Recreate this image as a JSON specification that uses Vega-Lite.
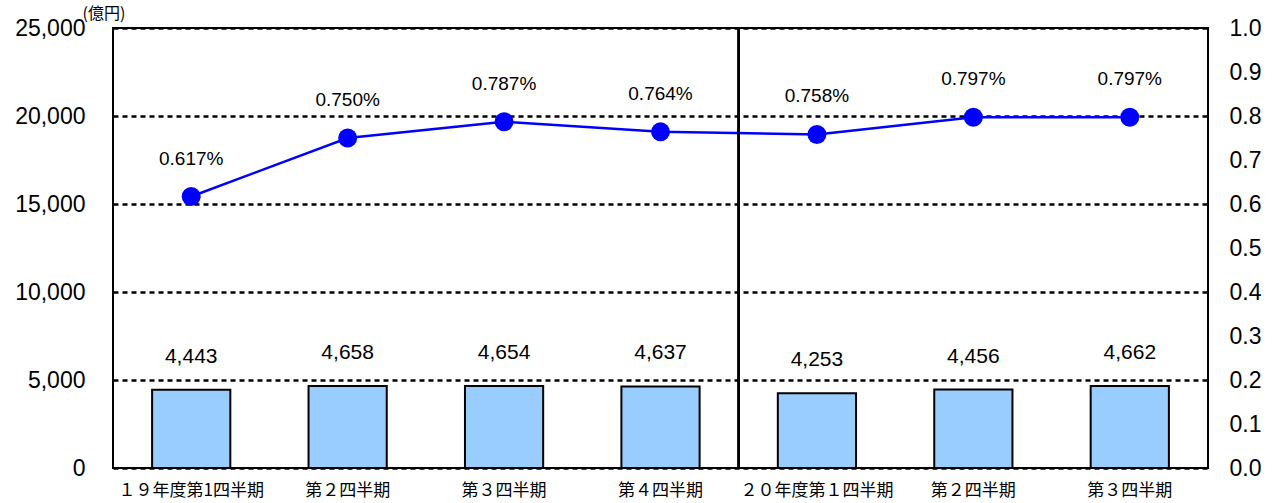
{
  "$schema": "https://vega.github.io/schema/vega-lite/v6.json",
  "width": 1095,
  "height": 440,
  "autosize": {"type": "none"},
  "padding": {"left": 113, "top": 28, "right": 66, "bottom": 35},
  "background": "white",
  "config": {
    "view": {"stroke": "black", "strokeWidth": 2},
    "axis": {"labelColor": "black", "titleColor": "black"}
  },
  "data": {
    "values": [
      {"period": "１９年度第1四半期|19-1", "value": 4443, "rate": 0.617},
      {"period": "第２四半期|19-2", "value": 4658, "rate": 0.750},
      {"period": "第３四半期|19-3", "value": 4654, "rate": 0.787},
      {"period": "第４四半期|19-4", "value": 4637, "rate": 0.764},
      {"period": "２０年度第１四半期|20-1", "value": 4253, "rate": 0.758},
      {"period": "第２四半期|20-2", "value": 4456, "rate": 0.797},
      {"period": "第３四半期|20-3", "value": 4662, "rate": 0.797}
    ]
  },
  "encoding": {
    "x": {
      "field": "period",
      "type": "nominal",
      "sort": null,
      "scale": {"paddingInner": 0, "paddingOuter": 0},
      "axis": {
        "title": null,
        "labelExpr": "split(datum.value, '|')[0]",
        "labelAngle": 0,
        "labelFont": "Noto Sans CJK JP",
        "labelFontSize": 17,
        "labelPadding": 14,
        "ticks": false,
        "domain": false,
        "grid": false
      }
    }
  },
  "layer": [
    {
      "encoding": {
        "y": {
          "field": "value",
          "type": "quantitative",
          "scale": {"domain": [0, 25000], "nice": false},
          "axis": {
            "orient": "left",
            "values": [0, 5000, 10000, 15000, 20000, 25000],
            "format": ",.0f",
            "labelFont": "Liberation Sans",
            "labelFontSize": 23,
            "labelPadding": 28,
            "grid": true,
            "gridDash": [5, 4],
            "gridColor": "black",
            "gridWidth": 2.5,
            "gridOpacity": 1,
            "domain": false,
            "ticks": false,
            "title": "(億円)",
            "titleAngle": 0,
            "titleX": -31,
            "titleY": -15,
            "titleAlign": "left",
            "titleBaseline": "middle",
            "titleFont": "Noto Sans CJK JP",
            "titleFontSize": 16,
            "titleFontWeight": "normal"
          }
        }
      },
      "layer": [
        {
          "mark": {"type": "bar", "width": {"band": 0.5}, "fill": "#99CCFF", "stroke": "black", "strokeWidth": 2}
        },
        {
          "mark": {"type": "text", "dy": -33, "baseline": "middle", "font": "Liberation Sans", "fontSize": 21, "color": "black"},
          "encoding": {
            "text": {"field": "value", "type": "quantitative", "format": ",.0f"}
          }
        }
      ]
    },
    {
      "encoding": {
        "y": {
          "field": "rate",
          "type": "quantitative",
          "scale": {"domain": [0, 1], "nice": false},
          "axis": {
            "orient": "right",
            "values": [0, 0.1, 0.2, 0.3, 0.4, 0.5, 0.6, 0.7, 0.8, 0.9, 1.0],
            "format": ".1f",
            "labelFont": "Liberation Sans",
            "labelFontSize": 23,
            "labelPadding": 21,
            "grid": false,
            "domain": false,
            "ticks": false,
            "title": null
          }
        }
      },
      "layer": [
        {
          "mark": {"type": "line", "color": "#0000FF", "strokeWidth": 2.5}
        },
        {
          "mark": {"type": "point", "filled": true, "color": "#0000FF", "size": 360, "opacity": 1}
        },
        {
          "transform": [{"calculate": "format(datum.rate, '.3f') + '%'", "as": "rateLabel"}],
          "mark": {"type": "text", "dy": -38, "baseline": "middle", "font": "Liberation Sans", "fontSize": 19, "color": "black"},
          "encoding": {
            "text": {"field": "rateLabel", "type": "nominal"}
          }
        }
      ]
    },
    {
      "mark": {"type": "rule", "color": "black", "strokeWidth": 2},
      "encoding": {
        "x": {"datum": "２０年度第１四半期|20-1", "type": "nominal", "bandPosition": 0}
      }
    }
  ],
  "resolve": {"scale": {"y": "independent"}}
}
